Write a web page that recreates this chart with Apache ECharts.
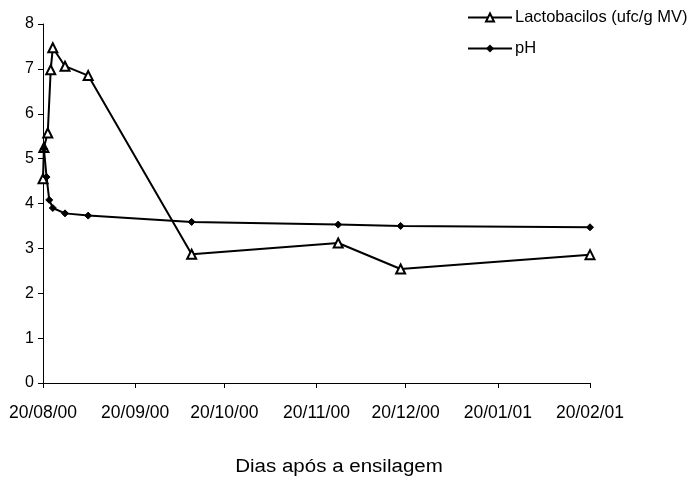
<!DOCTYPE html>
<html>
<head>
<meta charset="utf-8">
<script src="https://cdn.jsdelivr.net/npm/echarts@6/dist/echarts.min.js"></script>
<style>
  html, body { margin: 0; padding: 0; background: #fff; }
  #chart { width: 694px; height: 481px; }
</style>
</head>
<body>
<div id="chart"></div>
<script>
// Days elapsed since ensiling (20/08/00) and measured values
const lactoDays = [0, 0.3, 1.6, 2.6, 3.3, 7.4, 15.2, 50, 99.3, 120.3, 184];
const lactoValues = [4.55, 5.25, 5.57, 6.98, 7.47, 7.06, 6.85, 2.87, 3.12, 2.54, 2.86];

const phDays = [0.3, 1.2, 2.1, 3.3, 7.4, 15.2, 50, 99.3, 120.3, 184];
const phValues = [5.22, 4.59, 4.08, 3.9, 3.78, 3.73, 3.59, 3.53, 3.5, 3.47];

// Date ticks on the 20th of each month, as day offsets
const tickDays = [0, 31, 61, 92, 122, 153, 184];
const tickLabels = ['20/08/00', '20/09/00', '20/10/00', '20/11/00', '20/12/00', '20/01/01', '20/02/01'];

const seriesNames = ['Lactobacilos (ufc/g MV)', 'pH'];
const xTitle = 'Dias após a ensilagem';

const zip = (xs, ys) => xs.map((x, i) => [x, ys[i]]);
const font = 'Liberation Sans, Arial, sans-serif';

const chart = echarts.init(document.getElementById('chart'), null, { renderer: 'canvas' });
chart.setOption({
  animation: false,
  backgroundColor: '#fff',
  grid: { left: 43, right: 104, top: 24, bottom: 98 },
  legend: {
    orient: 'vertical',
    left: 462,
    top: 4,
    itemWidth: 44,
    itemHeight: 10,
    itemGap: 14,
    textStyle: { fontFamily: font, fontSize: 16.5, color: '#000', padding: [0, 0, 0, -2] },
    data: seriesNames
  },
  xAxis: {
    type: 'value',
    min: 0,
    max: 184,
    splitLine: { show: false },
    axisLine: { lineStyle: { color: '#000', width: 1 } },
    axisTick: { show: true, length: 5, customValues: tickDays, lineStyle: { color: '#000' } },
    axisLabel: {
      customValues: tickDays,
      margin: 21,
      fontFamily: font,
      fontSize: 17.5,
      color: '#000',
      formatter: v => tickLabels[tickDays.indexOf(v)] || ''
    }
  },
  yAxis: {
    type: 'value',
    min: 0,
    max: 8,
    interval: 1,
    splitLine: { show: false },
    axisLine: { show: true, lineStyle: { color: '#000', width: 1 } },
    axisTick: { show: true, length: 5, lineStyle: { color: '#000' } },
    axisLabel: { margin: 9, fontFamily: font, fontSize: 16, color: '#000' }
  },
  graphic: [{
    type: 'text',
    x: 339,
    y: 467,
    scaleX: 1.14,
    style: {
      text: xTitle,
      font: '18px ' + font,
      fill: '#000',
      align: 'center',
      verticalAlign: 'middle'
    }
  }],
  series: [
    {
      name: seriesNames[0],
      type: 'line',
      data: zip(lactoDays, lactoValues),
      symbol: 'triangle',
      symbolSize: 9,
      lineStyle: { color: '#000', width: 2 },
      itemStyle: { color: '#fff', borderColor: '#000', borderWidth: 2 }
    },
    {
      name: seriesNames[1],
      type: 'line',
      data: zip(phDays, phValues),
      symbol: 'diamond',
      symbolSize: 7,
      lineStyle: { color: '#000', width: 2 },
      itemStyle: { color: '#000', borderColor: '#000' }
    }
  ]
});
</script>
</body>
</html>
